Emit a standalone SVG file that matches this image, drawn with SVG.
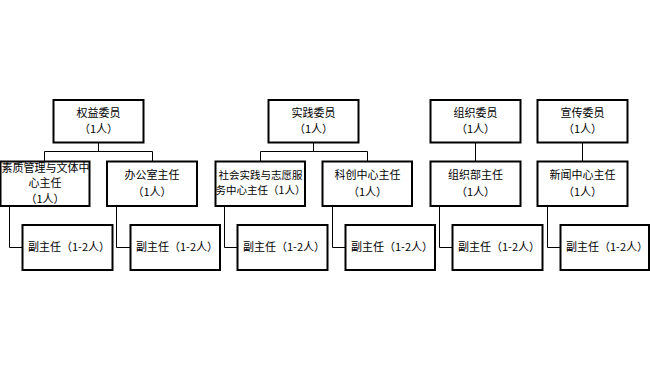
<svg xmlns="http://www.w3.org/2000/svg" width="650" height="368" viewBox="0 0 650 368">
<style>
.box{fill:#fff;stroke:#000;stroke-width:2}
.c{fill:none;stroke:#000;stroke-width:1}
text{font-family:"Noto Sans CJK SC","Noto Sans",sans-serif;font-size:11px;fill:#000}
.m{text-anchor:middle}
.s{font-size:10.5px}
</style>
<rect width="650" height="368" fill="#fff"/>
<g id="connectors">
<path class="c" d="M98.5,142.5V151.5M44.5,151.5H152.5M44.5,151.5V161.5M152.5,151.5V161.5"/>
<path class="c" d="M313.5,142.5V151.5M260.5,151.5H367.5M260.5,151.5V161.5M367.5,151.5V161.5"/>
<path class="c" d="M475.5,142.5V161.5M582.5,142.5V161.5"/>
<path class="c" d="M9.5,206V247.5H22.5M116.5,206V247.5H130.5M224.5,206V247.5H237.5M332.5,206V247.5H345.5M439.5,206V247.5H452.5M547.5,206V247.5H560.5"/>
</g>
<g id="n-quanyi"><rect class="box" x="53.5" y="100" width="90" height="42.5"/><text class="m"><tspan x="98.5" y="116.5">权益委员</tspan><tspan x="98.5" y="133">（1人）</tspan></text></g>
<g id="n-shijian"><rect class="box" x="268.5" y="100" width="90" height="42.5"/><text class="m"><tspan x="313.5" y="116.5">实践委员</tspan><tspan x="313.5" y="133">（1人）</tspan></text></g>
<g id="n-zuzhi"><rect class="box" x="430.5" y="100" width="90" height="42.5"/><text class="m"><tspan x="475.5" y="116.5">组织委员</tspan><tspan x="475.5" y="133">（1人）</tspan></text></g>
<g id="n-xuanchuan"><rect class="box" x="537.5" y="100" width="90" height="42.5"/><text class="m"><tspan x="582.5" y="116.5">宣传委员</tspan><tspan x="582.5" y="133">（1人）</tspan></text></g>
<g id="n-suzhi"><rect class="box" x="0.5" y="161.5" width="89" height="44.5"/><text class="m"><tspan x="45.5" y="171.5">素质管理与文体中</tspan><tspan x="45" y="187">心主任</tspan><tspan x="45" y="202.5">（1人）</tspan></text></g>
<g id="n-bangong"><rect class="box" x="107" y="161.5" width="90" height="44.5"/><text class="m"><tspan x="152" y="179">办公室主任</tspan><tspan x="152" y="195.5">（1人）</tspan></text></g>
<g id="n-shehui"><rect class="box" x="215.5" y="161.5" width="89.5" height="44.5"/><text class="m s"><tspan x="260.5" y="178.5">社会实践与志愿服</tspan><tspan x="260.5" y="194">务中心主任（1人）</tspan></text></g>
<g id="n-kechuang"><rect class="box" x="322.5" y="161.5" width="89.5" height="44.5"/><text class="m"><tspan x="367.5" y="179">科创中心主任</tspan><tspan x="367.5" y="195.5">（1人）</tspan></text></g>
<g id="n-zuzhibu"><rect class="box" x="430.5" y="161.5" width="90" height="44.5"/><text class="m"><tspan x="475.5" y="179">组织部主任</tspan><tspan x="475.5" y="195.5">（1人）</tspan></text></g>
<g id="n-xinwen"><rect class="box" x="537.5" y="161.5" width="90" height="44.5"/><text class="m"><tspan x="582.5" y="179">新闻中心主任</tspan><tspan x="582.5" y="195.5">（1人）</tspan></text></g>
<g id="n-fu1"><rect class="box" x="22.5" y="225" width="90" height="45"/><text x="28" y="250.5">副主任（1-2人）</text></g>
<g id="n-fu2"><rect class="box" x="130.5" y="225" width="89.5" height="45"/><text x="136" y="250.5">副主任（1-2人）</text></g>
<g id="n-fu3"><rect class="box" x="237.5" y="225" width="90" height="45"/><text x="243" y="250.5">副主任（1-2人）</text></g>
<g id="n-fu4"><rect class="box" x="345.5" y="225" width="89.5" height="45"/><text x="351" y="250.5">副主任（1-2人）</text></g>
<g id="n-fu5"><rect class="box" x="452.5" y="225" width="90" height="45"/><text x="458" y="250.5">副主任（1-2人）</text></g>
<g id="n-fu6"><rect class="box" x="560.5" y="225" width="88.5" height="45"/><text x="566" y="250.5">副主任（1-2人）</text></g>
</svg>
